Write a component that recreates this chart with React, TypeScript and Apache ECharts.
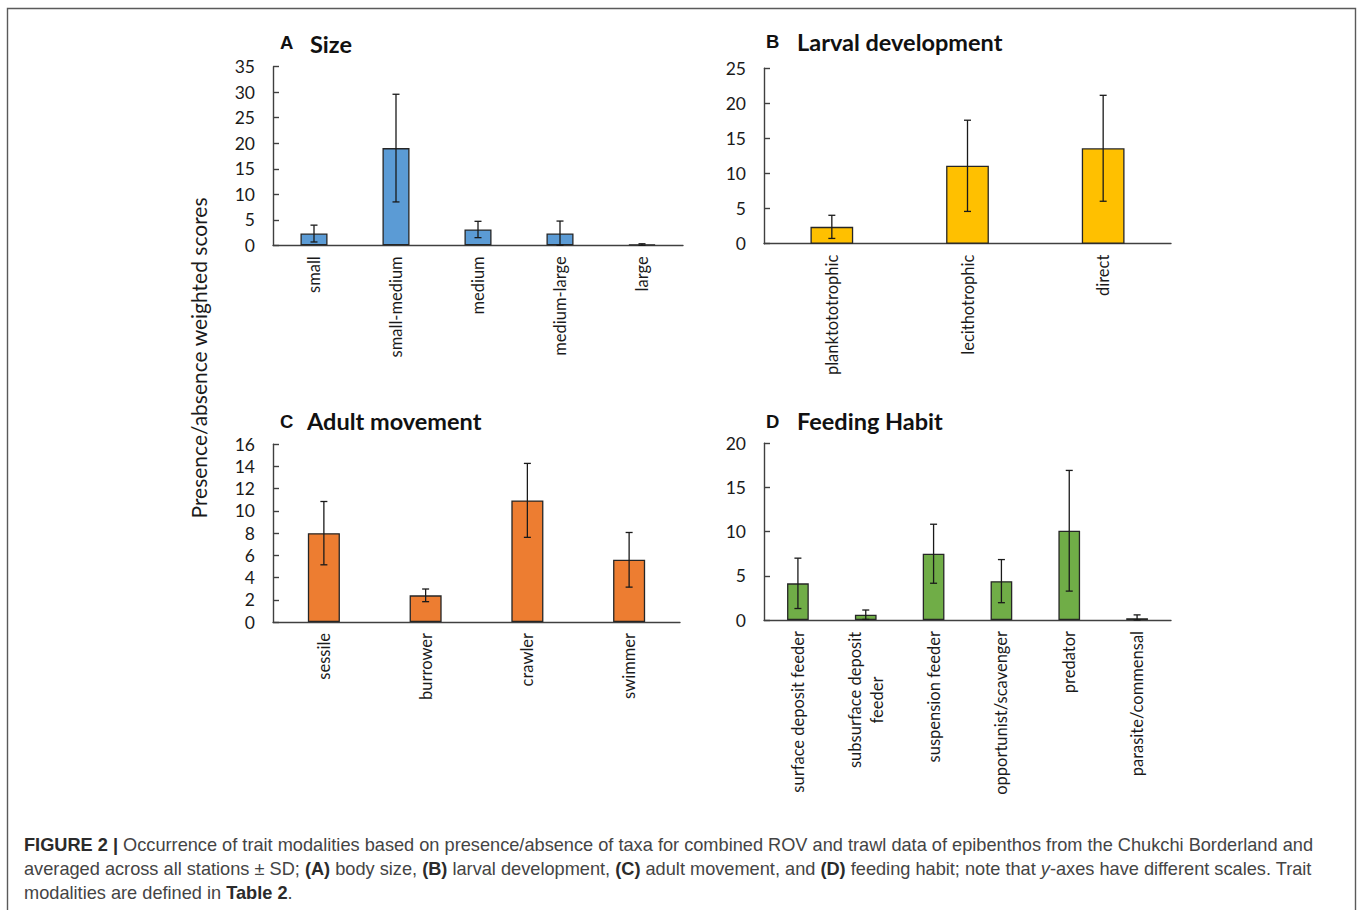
import React, { useEffect, useRef } from 'react';
import * as echarts from 'echarts';

// Panel A: body size
const sizeCategories = ['small', 'small-medium', 'medium', 'medium-large', 'large'];
const sizeValues = [2.3, 19.05, 3.1, 2.3, 0.15];
const sizeSD = [1.65, 10.55, 1.6, 2.45, 0.15];
const sizeTicks = { min: 0, max: 35, interval: 5 };

// Panel B: larval development
const larvalCategories = ['planktototrophic', 'lecithotrophic', 'direct'];
const larvalValues = [2.4, 11.1, 13.6];
const larvalSD = [1.65, 6.5, 7.55];
const larvalTicks = { min: 0, max: 25, interval: 5 };

// Panel C: adult movement
const movementCategories = ['sessile', 'burrower', 'crawler', 'swimmer'];
const movementValues = [8.0, 2.4, 10.95, 5.6];
const movementSD = [2.85, 0.57, 3.33, 2.46];
const movementTicks = { min: 0, max: 16, interval: 2 };

// Panel D: feeding habit
const feedingCategories = [
  'surface deposit feeder',
  'subsurface deposit\nfeeder',
  'suspension feeder',
  'opportunist/scavenger',
  'predator',
  'parasite/commensal',
];
const feedingValues = [4.15, 0.6, 7.5, 4.4, 10.1, 0.2];
const feedingSD = [2.85, 0.53, 3.34, 2.44, 6.83, 0.38];
const feedingTicks = { min: 0, max: 20, interval: 5 };

const FONT = 'Lato';
const AXIS_COLOR = '#404040';
const CAT_SIZE = 16.5;

type Panel = {
  letter: string;
  title: string;
  categories: string[];
  values: number[];
  sd: number[];
  ticks: { min: number; max: number; interval: number };
  color: string;
  grid: { left: number; top: number; width: number; height: number };
  barWidth: string;
  letterPos: [number, number];
  titlePos: [number, number];
};

const panels: Panel[] = [
  {
    letter: 'A', title: 'Size', categories: sizeCategories, values: sizeValues, sd: sizeSD,
    ticks: sizeTicks, color: '#5B9BD5',
    grid: { left: 273, top: 66.7, width: 410, height: 178.6 }, barWidth: '33%',
    letterPos: [280, 42], titlePos: [310, 44],
  },
  {
    letter: 'B', title: 'Larval development', categories: larvalCategories, values: larvalValues, sd: larvalSD,
    ticks: larvalTicks, color: '#FFC000',
    grid: { left: 764, top: 68.3, width: 407, height: 175.4 }, barWidth: '31.5%',
    letterPos: [766, 41], titlePos: [797, 42],
  },
  {
    letter: 'C', title: 'Adult movement', categories: movementCategories, values: movementValues, sd: movementSD,
    ticks: movementTicks, color: '#ED7D31',
    grid: { left: 273, top: 444.3, width: 407, height: 177.7 }, barWidth: '31.5%',
    letterPos: [280, 421], titlePos: [307, 421],
  },
  {
    letter: 'D', title: 'Feeding Habit', categories: feedingCategories, values: feedingValues, sd: feedingSD,
    ticks: feedingTicks, color: '#70AD47',
    grid: { left: 764, top: 443.3, width: 407, height: 176.7 }, barWidth: '32%',
    letterPos: [766, 421], titlePos: [797, 421],
  },
];

function errorBarRender(params: any, api: any) {
  const x = api.value(0);
  const lo = api.value(1);
  const hi = api.value(2);
  const pLo = api.coord([x, lo]);
  const pHi = api.coord([x, hi]);
  const hw = 3.5;
  const style = { stroke: '#1a1a1a', lineWidth: 1.3, fill: null };
  return {
    type: 'group',
    children: [
      { type: 'line', shape: { x1: pLo[0], y1: pLo[1], x2: pHi[0], y2: pHi[1] }, style },
      { type: 'line', shape: { x1: pHi[0] - hw, y1: pHi[1], x2: pHi[0] + hw, y2: pHi[1] }, style },
      { type: 'line', shape: { x1: pLo[0] - hw, y1: pLo[1], x2: pLo[0] + hw, y2: pLo[1] }, style },
    ],
  };
}

function buildOption() {
  const grid = panels.map((p) => ({ ...p.grid, containLabel: false }));
  const xAxis = panels.map((p, i) => ({
    type: 'category',
    gridIndex: i,
    data: p.categories,
    axisLine: { show: true, lineStyle: { color: AXIS_COLOR, width: 1.4 } },
    axisTick: { show: false },
    axisLabel: {
      rotate: 90,
      margin: 11,
      interval: 0,
      color: '#1a1a1a',
      fontFamily: FONT,
      fontSize: CAT_SIZE,
      formatter: (v: string) =>
        v.includes('\n') ? v.split('\n').map((s) => `{c|${s}}`).join('\n') : v,
      rich: { c: { width: 138, align: 'center', fontFamily: FONT, fontSize: CAT_SIZE, color: '#1a1a1a', lineHeight: 22 } },
    },
  }));
  const yAxis = panels.map((p, i) => ({
    type: 'value',
    gridIndex: i,
    min: p.ticks.min,
    max: p.ticks.max,
    interval: p.ticks.interval,
    splitLine: { show: false },
    axisLine: { show: true, lineStyle: { color: AXIS_COLOR, width: 1.4 } },
    axisTick: { show: true, inside: true, length: 6, lineStyle: { color: AXIS_COLOR, width: 1.4 } },
    axisLabel: { margin: 18, color: '#1a1a1a', fontFamily: FONT, fontSize: 17.5 },
  }));
  const series: any[] = [];
  panels.forEach((p, i) => {
    series.push({
      type: 'bar',
      xAxisIndex: i,
      yAxisIndex: i,
      data: p.values,
      barWidth: p.barWidth,
      itemStyle: { color: p.color, borderColor: '#262626', borderWidth: 1.3 },
      z: 2,
    });
    series.push({
      type: 'custom',
      xAxisIndex: i,
      yAxisIndex: i,
      renderItem: errorBarRender,
      data: p.values.map((v, k) => [k, Math.max(0, v - p.sd[k]), v + p.sd[k]]),
      encode: { x: 0, y: [1, 2] },
      z: 5,
      silent: true,
    });
  });

  const graphic: any[] = [
    {
      type: 'rect',
      shape: { x: 7.5, y: 8.5, width: 1348, height: 920 },
      style: { fill: null, stroke: '#5a5a5a', lineWidth: 1.4 },
      silent: true,
    },
    {
      type: 'text',
      x: 198,
      y: 358,
      rotation: Math.PI / 2,
      style: {
        text: 'Presence/absence weighted scores',
        fontFamily: FONT,
        fontSize: 21,
        fill: '#1a1a1a',
        align: 'center',
        verticalAlign: 'middle',
      },
    },
  ];
  panels.forEach((p) => {
    graphic.push({
      type: 'text',
      x: p.letterPos[0],
      y: p.letterPos[1],
      style: {
        text: p.letter,
        fontFamily: 'Liberation Sans',
        fontWeight: 'bold',
        fontSize: 18.5,
        fill: '#111',
        align: 'left',
        verticalAlign: 'middle',
      },
    });
    graphic.push({
      type: 'text',
      x: p.titlePos[0],
      y: p.titlePos[1],
      style: {
        text: p.title,
        fontFamily: FONT,
        fontWeight: 'bold',
        fontSize: 23.5,
        fill: '#111',
        align: 'left',
        verticalAlign: 'middle',
      },
    });
  });

  const capFont = 'Liberation Sans';
  const capSize = 18.2;
  const capRich = {
    b: { fontFamily: capFont, fontWeight: 'bold', fontSize: capSize, fill: '#2b2b2b' },
    i: { fontFamily: capFont, fontStyle: 'italic', fontSize: capSize, fill: '#444' },
    n: { fontFamily: capFont, fontSize: capSize, fill: '#444' },
  };
  const captionLines = [
    '{b|FIGURE 2 |}{n| Occurrence of trait modalities based on presence/absence of taxa for combined ROV and trawl data of epibenthos from the Chukchi Borderland and}',
    '{n|averaged across all stations ± SD; }{b|(A)}{n| body size, }{b|(B)}{n| larval development, }{b|(C)}{n| adult movement, and }{b|(D)}{n| feeding habit; note that }{i|y}{n|-axes have different scales. Trait}',
    '{n|modalities are defined in }{b|Table 2}{n|.}',
  ];
  captionLines.forEach((line, k) => {
    graphic.push({
      type: 'text',
      x: 24,
      y: 845 + k * 24,
      style: {
        text: line,
        rich: capRich,
        fontFamily: capFont,
        fontSize: capSize,
        fill: '#444',
        align: 'left',
        verticalAlign: 'middle',
      },
    });
  });

  return {
    animation: false,
    backgroundColor: '#ffffff',
    grid,
    xAxis,
    yAxis,
    series,
    graphic,
  };
}

export default function App() {
  const ref = useRef<HTMLDivElement>(null);
  useEffect(() => {
    if (!ref.current) return;
    const chart = echarts.init(ref.current, null, { renderer: 'svg' });
    chart.setOption(buildOption() as any);
    return () => chart.dispose();
  }, []);
  return (
    <div
      ref={ref}
      style={{ position: 'absolute', left: 0, top: 0, width: 1358, height: 910, background: '#fff' }}
    />
  );
}
